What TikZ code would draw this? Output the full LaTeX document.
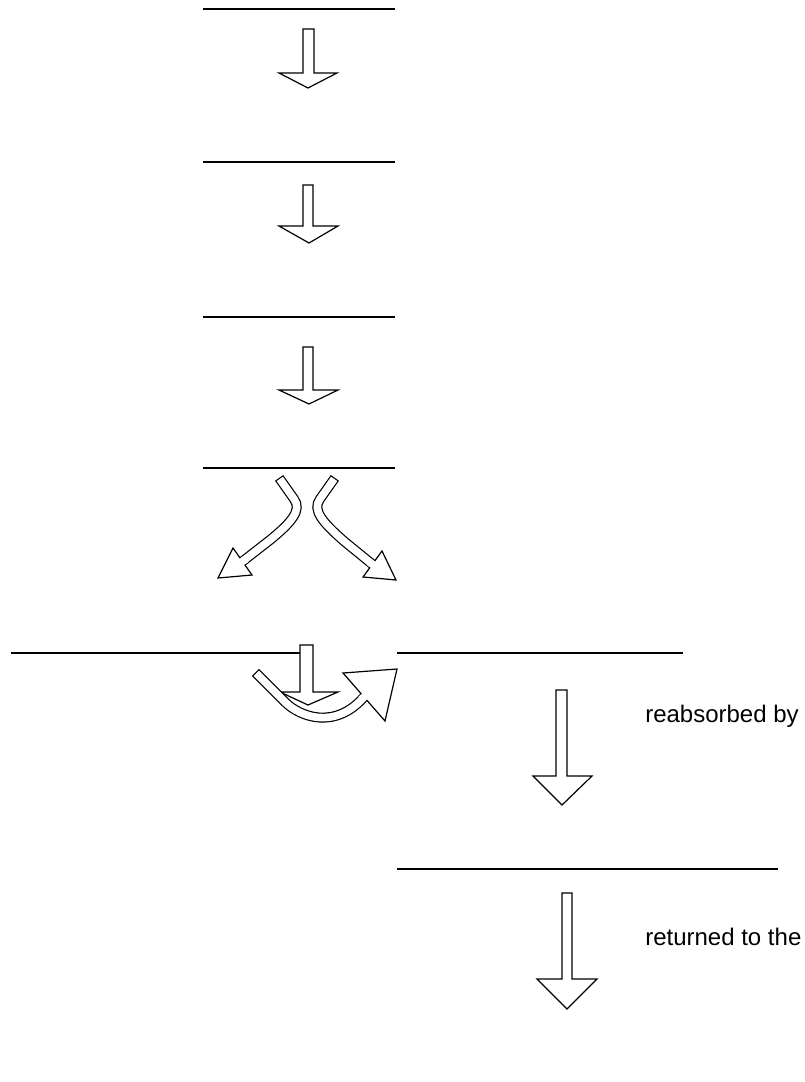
\documentclass[tikz,border=0pt]{standalone}
\usepackage{fontspec}
\setmainfont{Liberation Sans}
\usetikzlibrary{calc}
\begin{document}
\begin{tikzpicture}[x=0.75pt,y=-0.75pt,
  rule/.style={line width=1.5pt},
  blockarrow/.style={draw=black, fill=white, line width=0.9pt, line join=miter},
  bentshaft/.style={draw=black, line width=0.9pt, double=white, double distance=5.7pt, line cap=rect},
  basecut/.style={white, line width=5.7pt},
  lbl/.style={font=\fontsize{18}{22}\selectfont, inner sep=0pt, anchor=base west}]
\useasboundingbox (0,0) rectangle (804,1082);

% horizontal rules
\draw[rule] (203,9) -- (395,9);
\draw[rule] (203,162) -- (395,162);
\draw[rule] (203,317) -- (395,317);
\draw[rule] (203,468) -- (395,468);
\draw[rule] (11,653) -- (301,653);
\draw[rule] (397,653) -- (683,653);
\draw[rule] (397,869) -- (778,869);

% straight block arrows
\draw[blockarrow] (303,29) -- (314,29) -- (314,73) -- (337,73) -- (308,88) -- (279,73) -- (303,73) -- cycle;
\draw[blockarrow] (303,185) -- (313,185) -- (313,226) -- (338,226) -- (309,243) -- (279,226) -- (303,226) -- cycle;
\draw[blockarrow] (303,347) -- (313,347) -- (313,390) -- (338,390) -- (309,404) -- (279,390) -- (303,390) -- cycle;

% left bent arrow
\coordinate (LB) at (243,561);
\coordinate (LT) at (218,578);
\draw[bentshaft] (282,482) -- (294,499) .. controls (302,510) and (292,522) .. (270,540) -- (LB);
\draw[blockarrow] (233,548) -- (LT) -- (252,575) -- cycle;
\draw[basecut] ($(LB)!-3pt!(LT)$) -- ($(LB)!3pt!(LT)$);

% right bent arrow
\coordinate (RB) at (372,564);
\coordinate (RT) at (396,580);
\draw[bentshaft] (332,482) -- (320,499) .. controls (312,510) and (322,522) .. (345,542) -- (RB);
\draw[blockarrow] (382,551) -- (RT) -- (363,577) -- cycle;
\draw[basecut] ($(RB)!-3pt!(RT)$) -- ($(RB)!3pt!(RT)$);

% down arrow through the split line
\draw[blockarrow] (300,645) -- (313,645) -- (313,692) -- (338,692) -- (308,705) -- (280,692) -- (300,692) -- cycle;

% bottom curved arrow
\coordinate (BB) at (364,697);
\coordinate (BT) at (397,669);
\draw[bentshaft] (259,676) -- (285,702) .. controls (300,717) and (335,730) .. (BB);
\draw[blockarrow] (343,673) -- (BT) -- (385,721) -- cycle;
\draw[basecut] ($(BB)!-3pt!(BT)$) -- ($(BB)!3pt!(BT)$);

% long down arrows
\draw[blockarrow] (556,690) -- (567,690) -- (567,776) -- (592,776) -- (562,805) -- (533,776) -- (556,776) -- cycle;
\draw[blockarrow] (562,893) -- (572,893) -- (572,979) -- (597,979) -- (567,1009) -- (537,979) -- (562,979) -- cycle;

% labels
\node[lbl] (reab) at (645,722) {reabsorbed by};
\node[lbl] (ret) at (645,945) {returned to the};
\end{tikzpicture}
\end{document}
